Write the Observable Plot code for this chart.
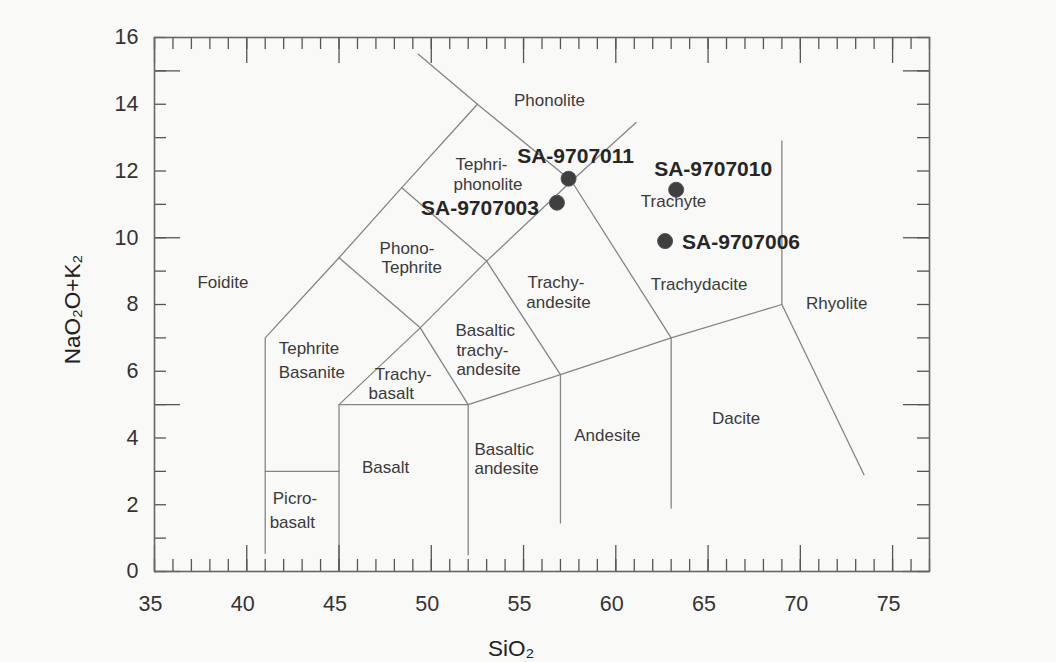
<!DOCTYPE html>
<html><head><meta charset="utf-8">
<script src="https://cdn.jsdelivr.net/npm/d3@7"></script>
<script src="https://cdn.jsdelivr.net/npm/@observablehq/plot@0.6"></script>
<style>
html,body{margin:0;padding:0;background:#f9f9f8;}
#chart{width:1056px;height:662px;}
</style></head><body><div id="chart"></div>
<script>
// ---- tick labels ----
const xTickLabels = [35, 40, 45, 50, 55, 60, 65, 70, 75];
const yTickLabels = [0, 2, 4, 6, 8, 10, 12, 14, 16];
const xMajorTicks = [35, 40, 45, 50, 55, 60, 65, 70, 75];
const yMajorTicks = [0, 5, 10, 15];
const xMinorTicks = d3.range(35, 78, 1);
const yMinorTicks = d3.range(0, 17, 1);

// ---- TAS field boundaries (SiO2, Na2O+K2O) ----
const boundaryNames = ["foidite", "picro", "basalt", "alkaline", "trachybasalt", "subalk", "andesite", "phonotephrite", "phonolite", "rhyolite", "basaltic"];
const boundaries = [
  [[41, 0.55], [41, 7], [45, 9.4], [48.4, 11.5], [52.5, 14], [49.3, 15.5]],
  [[41, 3], [45, 3]],
  [[45, 0], [45, 5], [52, 5]],
  [[45, 5], [49.4, 7.3], [53, 9.3], [57.6, 11.7], [61.1, 13.45]],
  [[49.4, 7.3], [52, 5]],
  [[52, 5], [57, 5.9], [63, 7], [69, 8]],
  [[57, 1.45], [57, 5.9], [53, 9.3], [48.4, 11.5]],
  [[45, 9.4], [49.4, 7.3]],
  [[52.5, 14], [57.6, 11.7], [63, 7], [63, 1.9]],
  [[69, 12.9], [69, 8], [73.45, 2.9]],
  [[52, 0.5], [52, 5]]
];

// ---- field names ----
const centeredNames = ["Foidite", "Phonolite", "Trachyte", "Trachydacite", "Rhyolite", "Basalt", "Andesite", "Dacite"];
const centeredX = [38.71, 56.40, 63.13, 64.51, 71.97, 47.52, 59.54, 66.52];
const centeredY = [8.66, 14.11, 11.09, 8.60, 8.03, 3.11, 4.07, 4.58];

const leftNames = ["Tephri-", "phonolite", "Phono-", "Tephrite", "Trachy-", "andesite", "Basaltic", "trachy-", "andesite", "Tephrite", "Basanite", "Trachy-", "basalt", "Basaltic", "andesite", "Picro-", "basalt"];
const leftX = [51.31, 51.20, 47.20, 47.30, 55.21, 55.15, 51.31, 51.36, 51.36, 41.73, 41.73, 46.93, 46.60, 52.34, 52.34, 41.41, 41.24];
const leftY = [12.19, 11.60, 9.68, 9.10, 8.65, 8.06, 7.22, 6.63, 6.05, 6.68, 5.96, 5.91, 5.32, 3.66, 3.07, 2.18, 1.46];

// ---- samples ----
const sampleNames = ["SA-9707011", "SA-9707003", "SA-9707010", "SA-9707006"];
const sampleSiO2 = [57.44, 56.81, 63.27, 62.67];
const sampleAlk = [11.77, 11.05, 11.44, 9.90];

// ---- build tables ----
const lineRows = boundaries.flatMap((pts, i) => pts.map(([x, y]) => ({id: boundaryNames[i], x, y})));
const centered = centeredNames.map((t, i) => ({t, x: centeredX[i], y: centeredY[i]}));
const lefts = leftNames.map((t, i) => ({t, x: leftX[i], y: leftY[i]}));
const samples = sampleNames.map((name, i) => ({name, x: sampleSiO2[i], y: sampleAlk[i]}));

const W = 1056, H = 662, mL = 154, mR = 127, mT = 37, mB = 91;
const iW = W - mL - mR, iH = H - mT - mB;
const majorLen = 26, minorLen = 12;
const tickColor = "#555";
const lineColor = "#858585";
const font = "'Liberation Sans', Arial, Helvetica, sans-serif";
const labelSize = 17;

const chart = Plot.plot({
  width: W, height: H,
  marginLeft: mL, marginRight: mR, marginTop: mT, marginBottom: mB,
  x: {domain: [35, 77]},
  y: {domain: [0, 16]},
  style: {fontFamily: font, background: "transparent", color: "#333"},
  marks: [
    // field boundaries
    Plot.line(lineRows, {x: "x", y: "y", z: "id", stroke: lineColor, strokeWidth: 1.3}),
    // inward ticks: bottom
    Plot.tickX(xMinorTicks, {x: d => d, insetTop: iH - minorLen, stroke: tickColor, strokeWidth: 1.3}),
    Plot.tickX(xMajorTicks, {x: d => d, insetTop: iH - majorLen, stroke: tickColor, strokeWidth: 1.3}),
    // top
    Plot.tickX(xMinorTicks, {x: d => d, insetBottom: iH - minorLen, stroke: tickColor, strokeWidth: 1.3}),
    Plot.tickX(xMajorTicks, {x: d => d, insetBottom: iH - majorLen, stroke: tickColor, strokeWidth: 1.3}),
    // left
    Plot.tickY(yMinorTicks, {y: d => d, insetRight: iW - minorLen, stroke: tickColor, strokeWidth: 1.3}),
    Plot.tickY(yMajorTicks, {y: d => d, insetRight: iW - majorLen, stroke: tickColor, strokeWidth: 1.3}),
    // right
    Plot.tickY(yMinorTicks, {y: d => d, insetLeft: iW - minorLen, stroke: tickColor, strokeWidth: 1.3}),
    Plot.tickY(yMajorTicks, {y: d => d, insetLeft: iW - majorLen, stroke: tickColor, strokeWidth: 1.3}),
    Plot.frame({stroke: "#666", strokeWidth: 1.6}),
    // axes labels
    Plot.axisX(xTickLabels, {anchor: "bottom", tickSize: 0, tickPadding: 24, fontSize: 21.5, fill: "#333", dx: -4, label: null}),
    Plot.axisY(yTickLabels, {anchor: "left", tickSize: 0, tickPadding: 16, fontSize: 21.5, fill: "#333", label: null}),
    Plot.text(["NaO₂O+K₂"], {frameAnchor: "left", textAnchor: "middle", lineAnchor: "middle", dx: -82, dy: 5, rotate: -90, fontSize: 22.5, fill: "#222"}),
    Plot.text(["SiO₂"], {frameAnchor: "bottom", textAnchor: "middle", lineAnchor: "middle", dx: -31, dy: 77, fontSize: 22.5, fill: "#222"}),
    // field names
    Plot.text(centered, {x: "x", y: "y", text: "t", fontSize: labelSize, fill: "#3a3a3a"}),
    Plot.text(lefts, {x: "x", y: "y", text: "t", fontSize: labelSize, fill: "#3a3a3a", textAnchor: "start"}),
    // samples
    Plot.dot(samples, {x: "x", y: "y", r: 7.5, fill: "#3f3f3f", stroke: "#555", strokeWidth: 1}),
    Plot.text(samples.filter(d => d.name === "SA-9707011"), {x: "x", y: "y", text: "name", dx: 7, dy: -22, fontSize: 21, fontWeight: "bold", fill: "#262626"}),
    Plot.text(samples.filter(d => d.name === "SA-9707003"), {x: "x", y: "y", text: "name", dx: -18, dy: 6, textAnchor: "end", fontSize: 21, fontWeight: "bold", fill: "#262626"}),
    Plot.text(samples.filter(d => d.name === "SA-9707010"), {x: "x", y: "y", text: "name", dx: 37, dy: -20, fontSize: 21, fontWeight: "bold", fill: "#262626"}),
    Plot.text(samples.filter(d => d.name === "SA-9707006"), {x: "x", y: "y", text: "name", dx: 17, dy: 1, textAnchor: "start", fontSize: 21, fontWeight: "bold", fill: "#262626"})
  ]
});
document.getElementById("chart").appendChild(chart);
</script>
</body></html>
